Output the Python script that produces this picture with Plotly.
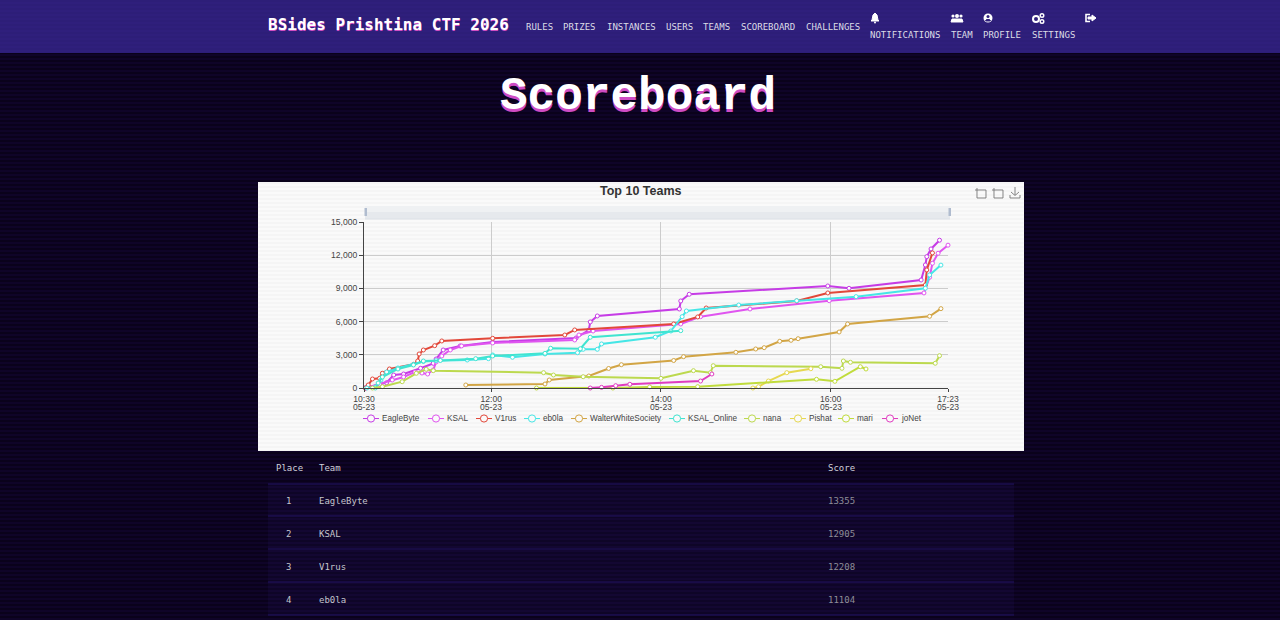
# -*- coding: utf-8 -*-
"""
BSides Prishtina CTF 2026 scoreboard page, drawn as a single Plotly figure
"""

import plotly.graph_objects as go

DAY = "2026-05-23 "

# score history
eaglebyte_times = ["10:31", "10:46", "10:51", "10:58", "11:10", "11:19", "11:21", "11:26", "11:38", "12:01",
                   "13:00", "13:09", "13:10", "13:15", "14:13", "14:14", "14:20", "15:58", "16:13", "17:04",
                   "17:07", "17:08", "17:11", "17:17"]
eaglebyte_scores = [0, 480, 1175, 1265, 1780, 2230, 2620, 3435, 3800, 4160,
                    4520, 5240, 5970, 6510, 7140, 7865, 8470, 9220, 9010, 9760,
                    11120, 11870, 12565, 13355]

ksal_times = ["10:31", "10:41", "10:50", "10:58", "11:06", "11:11", "11:15", "11:19", "11:21", "11:25", "11:31",
              "11:39", "12:01", "12:59", "13:02", "13:12", "14:14", "14:28", "15:03", "15:59", "17:06",
              "17:10", "17:12", "17:16", "17:23"]
ksal_scores = [0, 360, 720, 995, 1445, 1355, 1265, 1630, 2350, 2890, 3435,
               3800, 4070, 4340, 4790, 5150, 5785, 6445, 7140, 7890, 8590,
               10005, 11270, 12175, 12905]

v1rus_times = ["10:31", "10:33", "10:36", "10:41", "10:43", "10:48", "11:05", "11:08", "11:09", "11:12", "11:20",
               "11:25", "12:01", "12:52", "12:59", "14:09", "14:26", "14:32", "15:36", "15:58", "17:07",
               "17:08", "17:12"]
v1rus_scores = [0, 270, 815, 875, 1330, 1720, 2140, 2440, 3075, 3435, 3825,
                4250, 4490, 4790, 5245, 5785, 6420, 7230, 7865, 8590, 9310,
                10670, 12208]

eb0la_times = ["10:32", "10:38", "10:42", "10:46", "10:54", "11:05", "11:12", "11:21", "11:43", "11:58", "12:01",
               "12:15", "12:38", "13:01", "13:05", "13:15", "13:18", "13:56", "14:07", "14:15", "14:18",
               "14:55", "15:36", "16:18", "17:07", "17:10", "17:18"]
eb0la_scores = [0, 90, 725, 1445, 1810, 2125, 2395, 2470, 2530, 2650, 2985,
                2775, 3075, 3190, 3500, 3500, 3980, 4585, 5150, 6445, 6960,
                7500, 7890, 8255, 9015, 10215, 11104]

walter_times = ["11:42", "12:38", "12:41", "13:09", "13:23", "13:32", "14:09", "14:16", "14:53", "15:07", "15:13",
                "15:24", "15:32", "15:37", "16:06", "16:12", "17:10", "17:18"]
walter_scores = [270, 360, 725, 1085, 1765, 2105, 2485, 2830, 3225, 3525, 3645,
                 4220, 4310, 4455, 5060, 5785, 6480, 7170]

ksal_online_times = ["10:38", "10:40", "10:43", "10:54", "11:05", "11:12", "11:24", "11:49", "12:01", "12:38",
                     "12:42", "13:03", "13:10", "14:14"]
ksal_online_scores = [0, 450, 995, 1720, 2080, 2440, 2485, 2650, 2895, 3135,
                      3590, 3545, 4585, 5180]

nana_times = ["10:36", "10:43", "10:57", "11:07", "11:14", "11:19", "12:37", "12:44", "13:05", "14:00", "14:23",
              "14:35", "14:37", "15:53", "16:08", "16:09", "16:14", "17:14", "17:17"]
nana_scores = [0, 120, 570, 1330, 1690, 1565, 1385, 1175, 1020, 875, 1565,
               1385, 2015, 1925, 1780, 2440, 2325, 2235, 2920]

pishat_times = ["15:05", "15:09", "15:16", "15:29", "15:46"]
pishat_scores = [0, 120, 630, 1385, 1745]

mari_times = ["12:32", "13:26", "13:52", "14:26", "15:50", "16:03", "16:21", "16:25"]
mari_scores = [0, 0, 100, 120, 785, 605, 1925, 1720]

jonet_times = ["13:10", "13:18", "13:28", "13:38", "14:28", "14:36"]
jonet_scores = [0, 60, 210, 335, 630, 1265]

team_names = ["EagleByte", "KSAL", "V1rus", "eb0la", "WalterWhiteSociety", "KSAL_Online", "nana", "Pishat", "mari", "joNet"]
team_colors = ["#c63ce6", "#e055f0", "#e2483a", "#45e6e6", "#d2a545", "#40e4d0", "#bcd94e", "#e6d850", "#c0dc3c", "#e03cc0"]
team_times = [eaglebyte_times, ksal_times, v1rus_times, eb0la_times, walter_times,
              ksal_online_times, nana_times, pishat_times, mari_times, jonet_times]
team_scores = [eaglebyte_scores, ksal_scores, v1rus_scores, eb0la_scores, walter_scores,
               ksal_online_scores, nana_scores, pishat_scores, mari_scores, jonet_scores]

x_ticks = ["10:30", "12:00", "14:00", "16:00", "17:23"]
y_ticks = [0, 3000, 6000, 9000, 12000, 15000]

# table rows
table_places = ["1", "2", "3", "4"]
table_teams = ["EagleByte", "KSAL", "V1rus", "eb0la"]
table_totals = ["13355", "12905", "12208", "11104"]

nav_items = ["RULES", "PRIZES", "INSTANCES", "USERS", "TEAMS", "SCOREBOARD", "CHALLENGES"]
nav_lefts = [525, 562, 606, 665, 702, 740, 805]
icon_items = ["NOTIFICATIONS", "TEAM", "PROFILE", "SETTINGS"]
icon_lefts = [869, 950, 982, 1031]

legend_lefts = [363, 428, 476, 524, 571, 669, 744, 790, 838, 882]

W, H = 1280, 620
MONO = "DejaVu Sans Mono"
SANS = "Liberation Sans"

shapes = []
notes = []


def px(x):
    return x / W


def py(y):
    return 1 - y / H


def rect(x0, y0, x1, y1, color, layer="below"):
    shapes.append(dict(type="rect", xref="paper", yref="paper", x0=px(x0), x1=px(x1), y0=py(y0), y1=py(y1),
                       fillcolor=color, line_width=0, layer=layer))


def line(x0, y0, x1, y1, color, width=1, layer="below"):
    shapes.append(dict(type="line", xref="paper", yref="paper", x0=px(x0), x1=px(x1), y0=py(y0), y1=py(y1),
                       line=dict(color=color, width=width), layer=layer))


def outline(points, color, width=1, fill=None, layer="above"):
    path = "M " + " L ".join(f"{px(a):.5f},{py(b):.5f}" for a, b in points)
    if fill:
        path += " Z"
    shapes.append(dict(type="path", xref="paper", yref="paper", path=path, fillcolor=fill,
                       line=dict(color=color, width=width), layer=layer))


def dot(x, y, r, color, fill="rgba(0,0,0,0)", width=1, layer="above"):
    shapes.append(dict(type="circle", xref="paper", yref="paper", x0=px(x - r), x1=px(x + r),
                       y0=py(y - r), y1=py(y + r), fillcolor=fill, line=dict(color=color, width=width), layer=layer))


def label(x, y, text, size, color, family=MONO, anchor="left", weight=400, shadow="none"):
    notes.append(dict(xref="paper", yref="paper", x=px(x), y=py(y), text=text, showarrow=False,
                      xanchor=anchor, yanchor="middle", borderpad=0,
                      font=dict(size=size, color=color, family=family, weight=weight, shadow=shadow)))


# 1. page background and scan lines
for y in range(0, H, 4):
    rect(0, y, W, y + 2, "rgba(0,0,0,0.3)")

rect(0, 0, W, 53, "#2f1f7c")
for y in range(0, 53, 4):
    rect(0, y, W, y + 2, "rgba(0,0,0,0.03)")

rect(258, 182, 1024, 451, "#fafafa")
for y in range(182, 451, 4):
    rect(258, y, 1024, y + 2, "rgba(0,0,0,0.02)")

# 2. header
label(266.5, 25, "BSides Prishtina CTF 2026", 16, "#ffffff", weight=700, shadow="0px 1px 0px #d04fc4")
for name, left in zip(nav_items, nav_lefts):
    label(left, 27, name, 9, "#dcdce6")
for name, left in zip(icon_items, icon_lefts):
    label(left, 35, name, 9, "#dcdce6")

# bell
outline([(875, 13), (877, 15), (878, 20), (879, 21), (871, 21), (872, 20), (873, 15)], "#ffffff", 1, "#ffffff")
dot(875, 22.5, 1, "#ffffff", "#ffffff", 0)
# users
dot(957, 16, 2, "#ffffff", "#ffffff", 0)
dot(953, 16, 1.6, "#ffffff", "#ffffff", 0)
dot(961, 16, 1.6, "#ffffff", "#ffffff", 0)
outline([(951, 22), (952, 19), (962, 19), (963, 22)], "#ffffff", 1, "#ffffff")
# profile
dot(988, 18, 4.5, "#ffffff", "#ffffff", 0)
dot(988, 16.5, 1.5, "#2f1f7c", "#2f1f7c", 0)
outline([(985.5, 21), (986.5, 19.5), (989.5, 19.5), (990.5, 21)], "#2f1f7c", 1, "#2f1f7c")
# settings
dot(1036, 19, 3, "#ffffff", "#2f1f7c", 2)
dot(1042, 15.5, 1.8, "#ffffff", "#2f1f7c", 1.4)
dot(1042, 21.5, 1.8, "#ffffff", "#2f1f7c", 1.4)
# sign out
outline([(1090, 14.5), (1086, 14.5), (1086, 21.5), (1090, 21.5)], "#ffffff", 1.6)
outline([(1088, 17), (1092, 17), (1092, 15), (1096, 18), (1092, 21), (1092, 19), (1088, 19)], "#ffffff", 1, "#ffffff")

# 3. page title
label(638, 96.5, "Scoreboard", 46, "#ffffff", family="Liberation Mono", anchor="center", weight=700,
      shadow="0px 3px 0px #cf4cc4")

# 4. chart chrome: title, zoom slider, toolbox
label(641, 190.5, "Top 10 Teams", 12.5, "#333333", family=SANS, anchor="center", weight=700)

rect(365, 206, 950, 219, "#eff1f3")
rect(365, 212, 950, 219, "#e6e9ed")
line(365, 219, 950, 219, "#dde1e7")
rect(364.5, 208, 367, 216, "#b0bccf")
rect(948.5, 208, 951, 216, "#b0bccf")

for left in [975, 992]:
    outline([(left + 2, 188), (left + 2, 198), (left + 11, 198), (left + 11, 190), (left + 4, 190)], "#777777", 0.9)
    line(left, 190, left + 4, 190, "#777777", 0.9, "above")
outline([(1015, 187), (1015, 195)], "#777777", 0.9)
outline([(1011, 192), (1015, 195.5), (1019, 192)], "#777777", 0.9)
outline([(1010, 195), (1010, 198), (1020, 198), (1020, 195)], "#777777", 0.9)

# 5. legend
for name, color, left in zip(team_names, team_colors, legend_lefts):
    line(left, 418.5, left + 16, 418.5, color, 1, "above")
    dot(left + 8, 418.5, 3.6, color, "#fafafa", 1)
    label(left + 18, 418.5, name, 8.2, "#444444", family=SANS)

# 6. table
rect(268, 484, 1014, 615, "rgba(58,36,150,0.10)")
for y in [484, 516, 549, 582, 615]:
    line(268, y, 1014, y, "#21135f", 1)
label(274.5, 467.5, "Place", 9, "#cfcfd8")
label(317.5, 467.5, "Team", 9, "#cfcfd8")
label(826.5, 467.5, "Score", 9, "#cfcfd8")
for i, (place, team, total) in enumerate(zip(table_places, table_teams, table_totals)):
    y = 500.5 + i * 33
    label(288.5, y, place, 9, "#c4c4cc", anchor="center")
    label(317.5, y, team, 9, "#c4c4cc")
    label(826.5, y, total, 9, "#8e8e98")

# 7. score lines
fig = go.Figure()
for name, color, times, scores in zip(team_names, team_colors, team_times, team_scores):
    fig.add_trace(
        go.Scatter(
            x=[DAY + t for t in times],
            y=scores,
            name=name,
            mode="lines+markers",
            line=dict(color=color, width=2),
            marker=dict(symbol="circle", size=4, color="#ffffff", line=dict(color=color, width=1)),
            cliponaxis=False,
        )
    )

# the date row sits tighter under the time than a two-line tick label would
for t in x_ticks:
    notes.append(dict(xref="x", yref="paper", x=DAY + t, y=py(406.5), text="05-23", showarrow=False,
                      xanchor="center", yanchor="middle", font=dict(size=8.6, color="#444444", family=SANS)))

fig.update_layout(
    width=W,
    height=H,
    margin=dict(l=0, r=0, t=0, b=0, autoexpand=False),
    paper_bgcolor="#0f0428",
    plot_bgcolor="rgba(0,0,0,0)",
    showlegend=False,
    shapes=shapes,
    annotations=notes,
    xaxis=dict(
        domain=[px(364), px(948)],
        type="date",
        range=[DAY + x_ticks[0], DAY + x_ticks[-1]],
        tickmode="array",
        tickvals=[DAY + t for t in x_ticks],
        ticktext=x_ticks,
        ticks="outside",
        ticklen=3,
        tickcolor="#444444",
        showgrid=True,
        gridcolor="#cccccc",
        gridwidth=1,
        showline=True,
        linecolor="#444444",
        linewidth=1,
        zeroline=False,
        tickfont=dict(size=8.6, color="#444444", family=SANS),
        tickangle=0,
    ),
    yaxis=dict(
        domain=[py(388), py(222)],
        range=[0, 15000],
        tickmode="array",
        tickvals=y_ticks,
        tickformat=",d",
        ticks="outside",
        ticklen=4,
        tickcolor="#444444",
        showgrid=True,
        gridcolor="#cccccc",
        gridwidth=1,
        showline=True,
        linecolor="#444444",
        linewidth=1,
        zeroline=False,
        tickfont=dict(size=8.6, color="#444444", family=SANS),
    ),
)

fig.write_html(
    "out.html",
    config={"displayModeBar": False},
    post_script="document.body.style.margin='0';document.body.style.overflow='hidden';"
                "document.body.style.background='#0f0428';",
)
